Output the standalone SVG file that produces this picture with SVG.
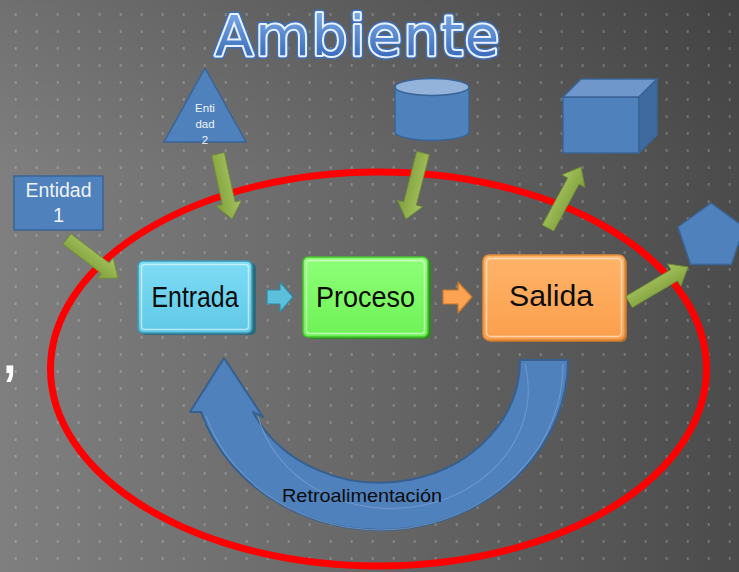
<svg xmlns="http://www.w3.org/2000/svg" width="739" height="572" viewBox="0 0 739 572">
<defs>
  <linearGradient id="bg" x1="0" y1="0" x2="1" y2="0">
    <stop offset="0" stop-color="#7f7f7f"/>
    <stop offset="0.5" stop-color="#676767"/>
    <stop offset="1" stop-color="#4b4b4b"/>
  </linearGradient>
  <linearGradient id="bgTop" x1="0" y1="0" x2="0" y2="1">
    <stop offset="0" stop-color="#000" stop-opacity="0.12"/>
    <stop offset="0.3" stop-color="#000" stop-opacity="0"/>
  </linearGradient>
  <pattern id="dots" patternUnits="userSpaceOnUse" width="21" height="17">
    <rect x="14.7" y="13" width="2" height="3" fill="#ffffff" fill-opacity="0.2"/>
  </pattern>
  <linearGradient id="titleGrad" x1="0" y1="0" x2="0" y2="1">
    <stop offset="0" stop-color="#86b4ee"/>
    <stop offset="1" stop-color="#2b5eb3"/>
  </linearGradient>
  <linearGradient id="greenGrad" x1="0" y1="0" x2="0" y2="1">
    <stop offset="0" stop-color="#a6c45f"/>
    <stop offset="1" stop-color="#7f9f3c"/>
  </linearGradient>
  <linearGradient id="cyanGrad" x1="0" y1="0" x2="0" y2="1">
    <stop offset="0" stop-color="#7fdcf5"/>
    <stop offset="1" stop-color="#5fc8e6"/>
  </linearGradient>
  <linearGradient id="limeGrad" x1="0" y1="0" x2="0" y2="1">
    <stop offset="0" stop-color="#8eff78"/>
    <stop offset="1" stop-color="#6ef256"/>
  </linearGradient>
  <linearGradient id="orangeGrad" x1="0" y1="0" x2="0" y2="1">
    <stop offset="0" stop-color="#ffb46a"/>
    <stop offset="1" stop-color="#fb9f4c"/>
  </linearGradient>
</defs>
<style>
  .ent { fill:#4f81bd; stroke:#3a6496; stroke-width:1.5; }
  .entTop { fill:#93b3da; stroke:#3a6496; stroke-width:1.5; }
  .entSide { fill:#3f6aa0; stroke:#3a6496; stroke-width:1.5; }
  .entTxt { font-family:"Liberation Sans", Arial, sans-serif; fill:#eef3f9; text-anchor:middle; }
  .green { fill:url(#greenGrad); stroke:#6f8c34; stroke-width:0.8; }
  .lbl { font-family:"Liberation Sans", Arial, sans-serif; fill:#0c0c0c; text-anchor:middle; }
  .hl { fill:none; stroke:#ffffff; stroke-opacity:0.55; stroke-width:1.5; }
  .title { font-family:"DejaVu Sans", Verdana, sans-serif; font-size:56px; letter-spacing:2px; stroke-linejoin:round; }
</style>

<!-- background -->
<rect x="0" y="0" width="739" height="572" fill="url(#bg)"/>
<rect x="0" y="0" width="739" height="572" fill="url(#bgTop)"/>
<rect x="0" y="0" width="739" height="572" fill="url(#dots)"/>

<!-- stray comma at left edge -->
<text x="0" y="373" font-family="Liberation Sans, Arial, sans-serif" font-size="70" fill="#ffffff">,</text>

<!-- title -->
<g id="title">
  <text class="title" x="215" y="55" fill="#3d6fb8" stroke="#3d6fb8" stroke-width="7">Ambiente</text>
  <text class="title" x="215" y="55" fill="url(#titleGrad)" stroke="#eaf1fb" stroke-width="4" paint-order="stroke">Ambiente</text>
</g>

<!-- red ellipse (boundary) -->
<ellipse cx="378.5" cy="369" rx="328" ry="197" fill="none" stroke="#ff0000" stroke-width="7"/>

<!-- external entities -->
<g id="entidad1">
  <rect class="ent" x="14" y="176" width="89" height="54"/>
  <text class="entTxt" x="58.5" y="197" font-size="20" textLength="66" lengthAdjust="spacingAndGlyphs">Entidad</text>
  <text class="entTxt" x="58.5" y="222" font-size="20">1</text>
</g>

<g id="entidad2">
  <polygon class="ent" points="205,68 246,142 164,142"/>
  <text class="entTxt" x="205" y="112" font-size="11.5">Enti</text>
  <text class="entTxt" x="205" y="128" font-size="11.5">dad</text>
  <text class="entTxt" x="205" y="144" font-size="11.5">2</text>
</g>

<g id="cilindro">
  <path class="ent" d="M395,87 L395,132 A37,8.5 0 0 0 469,132 L469,87 Z"/>
  <ellipse class="entTop" cx="432" cy="87" rx="37" ry="8.5"/>
</g>

<g id="cubo">
  <rect class="ent" x="563" y="97" width="76" height="56"/>
  <polygon class="entTop" points="563,97 581,79 657,79 639,97" style="fill:#6f97cc"/>
  <polygon class="entSide" points="639,97 657,79 657,135 639,153"/>
</g>

<g id="pentagono">
  <polygon class="ent" points="711,203 744,227 731.5,264.5 690.5,264.5 678,227"/>
</g>

<!-- feedback arrow -->
<g id="retroalimentacion">
  <path d="M568,360 A188,170 0 0 1 201,412 L190,412 L224,358 L263,417 L253,412 A140,122 0 0 0 520,360 Z" fill="#4f81bd" stroke="#36608f" stroke-width="2" stroke-linejoin="round"/>
  <path d="M563,364 A183,165 0 0 1 206,416 M258,416 A135,117 0 0 0 525,364" fill="none" stroke="#7da3d4" stroke-opacity="0.6" stroke-width="1.2"/>
  <text x="362" y="502" font-family="Liberation Sans, Arial, sans-serif" font-size="19" fill="#0c0c0c" text-anchor="middle" textLength="160" lengthAdjust="spacingAndGlyphs">Retroalimentación</text>
</g>

<!-- process boxes -->
<g id="entrada">
  <rect x="141" y="263" width="115" height="72" rx="5" fill="#2c6a7c"/>
  <rect x="138" y="261" width="114" height="72" rx="5" fill="url(#cyanGrad)" stroke="#3c98b2" stroke-width="1.5"/>
  <rect class="hl" x="141.5" y="264.5" width="107" height="65" rx="3"/>
  <text class="lbl" x="195" y="307" font-size="29" textLength="87" lengthAdjust="spacingAndGlyphs">Entrada</text>
</g>

<g id="proceso">
  <rect x="306" y="259" width="125" height="80" rx="5" fill="#2f8a22"/>
  <rect x="303" y="257" width="125" height="80" rx="5" fill="url(#limeGrad)" stroke="#48c030" stroke-width="1.5"/>
  <rect class="hl" x="306.5" y="260.5" width="118" height="73" rx="3"/>
  <text class="lbl" x="365.5" y="307" font-size="29" textLength="99" lengthAdjust="spacingAndGlyphs">Proceso</text>
</g>

<g id="salida">
  <rect x="485" y="257" width="142" height="85" rx="6" fill="#b8722f"/>
  <rect x="483" y="255" width="142" height="85" rx="6" fill="url(#orangeGrad)" stroke="#e0893a" stroke-width="1.5"/>
  <rect class="hl" x="486.5" y="258.5" width="135" height="78" rx="4"/>
  <text class="lbl" x="551" y="306" font-size="30" textLength="84" lengthAdjust="spacingAndGlyphs">Salida</text>
</g>

<!-- connectors -->
<g id="conectores">
  <polygon points="267,290 280,290 280,282 293,297 280,312 280,304 267,304" fill="#5cc0dc" stroke="#2f8aa3" stroke-width="1.2" stroke-linejoin="round"/>
  <polygon points="443,290 458,290 458,282 472,297 458,313 458,304 443,304" fill="#fba352" stroke="#c9772d" stroke-width="1.2" stroke-linejoin="round"/>
  <path class="green" transform="translate(67,239) rotate(37.4)" d="M0,-6.5 L48.2,-6.5 L48.2,-13 L64.2,0 L48.2,13 L48.2,6.5 L0,6.5 Z"/>
  <path class="green" transform="translate(218,154) rotate(77.8)" d="M0,-6.5 L50.5,-6.5 L50.5,-13 L66.5,0 L50.5,13 L50.5,6.5 L0,6.5 Z"/>
  <path class="green" transform="translate(423,153) rotate(104.4)" d="M0,-6.5 L52.2,-6.5 L52.2,-13 L68.2,0 L52.2,13 L52.2,6.5 L0,6.5 Z"/>
  <path class="green" transform="translate(548,228) rotate(-61.6)" d="M0,-6.5 L53.4,-6.5 L53.4,-13 L69.4,0 L53.4,13 L53.4,6.5 L0,6.5 Z"/>
  <path class="green" transform="translate(629,302) rotate(-30.7)" d="M0,-6.5 L52.6,-6.5 L52.6,-13 L68.6,0 L52.6,13 L52.6,6.5 L0,6.5 Z"/>
</g>
</svg>
